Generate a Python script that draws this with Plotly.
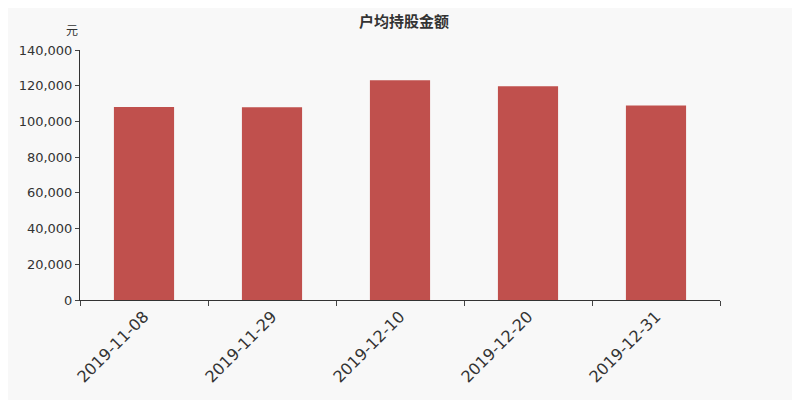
import plotly.graph_objects as go

# 户均持股金额 data
dates = ['2019-11-08', '2019-11-29', '2019-12-10', '2019-12-20', '2019-12-31']
amounts = [108100, 107900, 123000, 119700, 108900]
y_ticks = [0, 20000, 40000, 60000, 80000, 100000, 120000, 140000]
y_labels = ['0', '20,000', '40,000', '60,000', '80,000', '100,000', '120,000', '140,000']

fig = go.Figure()
fig.add_trace(go.Bar(x=dates, y=amounts, marker_color='#c0504d', marker_line_width=0,
                     width=0.47))

# page is shown with an 8px body offset, so the figure is a bit smaller
fig.update_layout(
    width=792, height=392,
    paper_bgcolor='#f8f8f8', plot_bgcolor='#f8f8f8',
    margin=dict(l=72, r=80, t=42, b=100),
    font=dict(family='Noto Sans CJK SC, DejaVu Sans', color='#333'),
    title=dict(text='<b>户均持股金额</b>', x=0.5, xanchor='center', y=1, yanchor='top',
               pad=dict(t=8), font=dict(size=15, color='#333')),
    showlegend=False,
)
fig.update_xaxes(type='category', tickson='boundaries', ticks='outside', ticklen=5,
                 showline=True, linecolor='#333', linewidth=1, showgrid=False,
                 tickangle=-45, tickfont=dict(size=16, family='DejaVu Sans'),
                 range=[-0.5, 4.5])
fig.update_yaxes(range=[0, 140000], tickvals=y_ticks, ticktext=y_labels,
                 ticks='outside', ticklen=4, showline=True, linecolor='#333', linewidth=1,
                 showgrid=False, zeroline=False, tickfont=dict(size=13, family='DejaVu Sans'))
fig.add_annotation(text='元', xref='paper', yref='paper', x=0.0, y=1.04,
                   xanchor='right', yanchor='bottom', showarrow=False, font=dict(size=12))

fig.write_html('out.html')
